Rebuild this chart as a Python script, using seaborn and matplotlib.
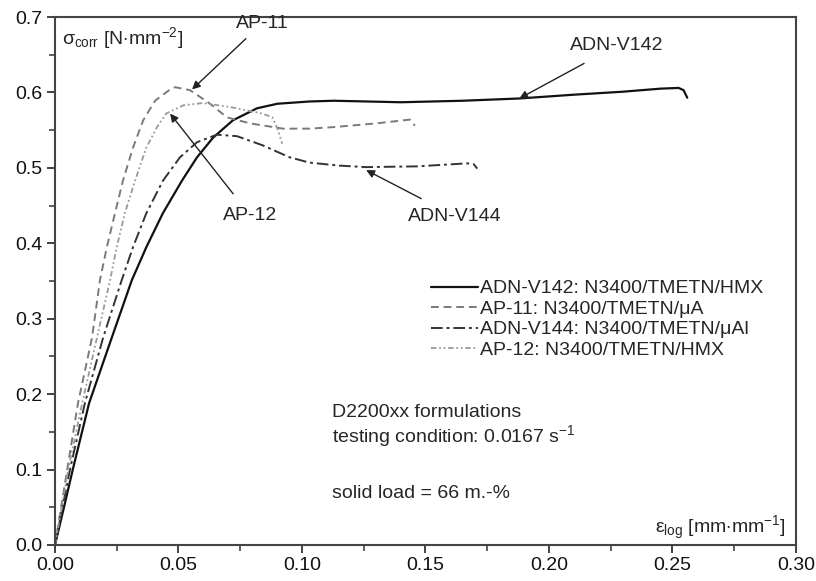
import pandas as pd
import matplotlib
matplotlib.use("Agg")
import matplotlib.pyplot as plt
import seaborn as sns

# data
v142_x = [0, 0.004, 0.0072, 0.0138, 0.023, 0.0311, 0.037, 0.0437, 0.0514, 0.0575, 0.064, 0.072,
          0.0818, 0.090, 0.103, 0.113, 0.140, 0.165, 0.188, 0.210, 0.230, 0.245, 0.2525, 0.2545, 0.256]
v142_y = [0, 0.055, 0.100, 0.188, 0.275, 0.351, 0.395, 0.440, 0.483, 0.514, 0.540, 0.563,
          0.579, 0.585, 0.588, 0.589, 0.587, 0.589, 0.592, 0.597, 0.601, 0.605, 0.606, 0.603, 0.593]

ap11_x = [0, 0.0049, 0.0093, 0.015, 0.0182, 0.021, 0.0243, 0.0275, 0.0316, 0.0357, 0.0405, 0.0466,
          0.0486, 0.0547, 0.0628, 0.0696, 0.079, 0.0923, 0.103, 0.1126, 0.130, 0.1437, 0.1457]
ap11_y = [0, 0.099, 0.188, 0.275, 0.351, 0.395, 0.440, 0.483, 0.527, 0.563, 0.589, 0.604,
          0.607, 0.603, 0.585, 0.567, 0.559, 0.552, 0.552, 0.554, 0.559, 0.564, 0.556]

v144_x = [0, 0.006, 0.0121, 0.0195, 0.027, 0.0316, 0.037, 0.0437, 0.0506, 0.0575, 0.0655, 0.0737,
          0.084, 0.095, 0.103, 0.115, 0.126, 0.1466, 0.1668, 0.1695, 0.171]
v144_y = [0, 0.099, 0.188, 0.275, 0.351, 0.395, 0.440, 0.483, 0.514, 0.534, 0.544, 0.542,
          0.530, 0.514, 0.507, 0.503, 0.501, 0.502, 0.506, 0.505, 0.499]

ap12_x = [0, 0.0053, 0.011, 0.017, 0.0223, 0.025, 0.0283, 0.0324, 0.037, 0.0413, 0.045, 0.052,
          0.060, 0.072, 0.084, 0.088, 0.0903, 0.092]
ap12_y = [0, 0.099, 0.188, 0.275, 0.351, 0.395, 0.440, 0.483, 0.527, 0.554, 0.572, 0.583,
          0.586, 0.580, 0.572, 0.567, 0.550, 0.532]

labels = ["ADN-V142: N3400/TMETN/HMX", "AP-11: N3400/TMETN/\u03bcA",
          "ADN-V144: N3400/TMETN/\u03bcAl", "AP-12: N3400/TMETN/HMX"]

sns.set_style("ticks")
plt.rcParams['font.family'] = ['Liberation Sans', 'DejaVu Sans']
plt.rcParams['mathtext.fontset'] = 'custom'
plt.rcParams['mathtext.rm'] = 'Liberation Sans'
plt.rcParams['mathtext.it'] = 'Liberation Sans'
plt.rcParams['font.size'] = 14

fig = plt.figure(figsize=(8.16, 5.81), dpi=100)
ax = fig.add_axes([0.0674, 0.062, 0.908, 0.9087])

series = [(v142_x, v142_y, "-", "#111111", 1.6),
          (ap11_x, ap11_y, (0, (4, 2.5)), "#7a7a7a", 1.4),
          (v144_x, v144_y, (0, (6, 2, 1.5, 2)), "#333333", 1.4),
          (ap12_x, ap12_y, (0, (3, 1.5, 1, 1.5, 1, 1.5)), "#9a9a9a", 1.3)]
for (xs, ys, ls, c, lw), lab in zip(series, labels):
    df = pd.DataFrame({"x": xs, "y": ys})
    sns.lineplot(data=df, x="x", y="y", sort=False, ax=ax, color=c,
                 linestyle=ls, linewidth=lw, label=lab)

ax.set_xlim(0, 0.30)
ax.set_ylim(0, 0.7)
ax.set_xticks([0, 0.05, 0.10, 0.15, 0.20, 0.25, 0.30])
ax.set_xticklabels(["0.00", "0.05", "0.10", "0.15", "0.20", "0.25", "0.30"])
ax.set_yticks([0, 0.1, 0.2, 0.3, 0.4, 0.5, 0.6, 0.7])
ax.set_yticklabels(["0.0", "0.1", "0.2", "0.3", "0.4", "0.5", "0.6", "0.7"])
ax.set_xticks([0.025, 0.075, 0.125, 0.175, 0.225, 0.275], minor=True)
ax.set_yticks([0.05, 0.15, 0.25, 0.35, 0.45, 0.55, 0.65], minor=True)
ax.tick_params(which='major', direction='out', length=6, width=1.3, colors='#333333',
               labelsize=14, labelcolor='#111111', pad=3)
ax.tick_params(which='minor', direction='out', length=4, width=1.1, colors='#333333')
for s in ax.spines.values():
    s.set_linewidth(1.5)
    s.set_color('#444444')
ax.set_xlabel("")
ax.set_ylabel("")

ax.text(0.003, 0.672, r"$\sigma_{\rm corr}$ [N$\cdot$mm$^{-2}$]", fontsize=14, va='center', ha='left')
ax.text(0.296, 0.023, r"$\varepsilon_{\rm log}$ [mm$\cdot$mm$^{-1}$]", fontsize=14, va='center', ha='right')

arrow = dict(arrowstyle="-|>", color="#222222", lw=1.0, mutation_scale=12)
ax.annotate("AP-11", xy=(0.0555, 0.604), xytext=(0.084, 0.692), ha='center', va='center',
            fontsize=14, arrowprops=dict(arrow, shrinkA=4, shrinkB=0))
ax.annotate("ADN-V142", xy=(0.188, 0.592), xytext=(0.2275, 0.662), ha='center', va='center',
            fontsize=14, arrowprops=dict(arrow, shrinkA=9, shrinkB=0))
ax.annotate("AP-12", xy=(0.0466, 0.572), xytext=(0.079, 0.437), ha='center', va='center',
            fontsize=14, arrowprops=dict(arrow, shrinkA=9, shrinkB=0))
ax.annotate("ADN-V144", xy=(0.126, 0.497), xytext=(0.162, 0.436), ha='center', va='center',
            fontsize=14, arrowprops=dict(arrow, shrinkA=9, shrinkB=0))

ax.text(0.112, 0.176, "D2200xx formulations", fontsize=14, va='center')
ax.text(0.112, 0.145, r"testing condition: 0.0167 s$^{-1}$", fontsize=14, va='center')
ax.text(0.112, 0.068, "solid load = 66 m.-%", fontsize=14, va='center')

leg = ax.legend(loc='upper left', bbox_to_anchor=(0.497, 0.517), frameon=False, fontsize=14,
                handlelength=2.4, handletextpad=0.1, labelspacing=0.15, borderaxespad=0)

fig.savefig("out.png", dpi=100)
